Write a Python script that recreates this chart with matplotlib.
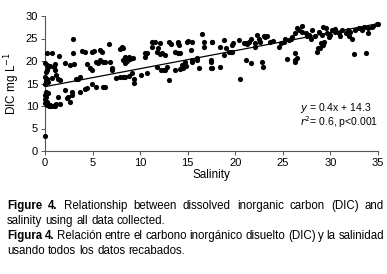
import matplotlib
matplotlib.use('Agg')
import matplotlib.pyplot as plt
import numpy as np

# ── DATA ──────────────────────────────────────────────────────
salinity = [
    0.0, 0.2, 0.7, 1.5,
    0.0, 0.2, 0.3, 0.2, 0.1, 0.5, 0.9, 1.0, 1.2, 1.4, 0.7, 1.1, 1.6,
    0.0, 0.1, 0.2, 0.0, 0.3,
    0.0, 0.1, 0.0, 0.2, 0.0, 0.2, 0.4, 0.6, 0.9, 1.1, 1.2, 1.6, 1.4, 0.3, 0.1, 0.5, 1.0,
    2.1, 2.3, 2.45, 2.6, 2.8, 2.8, 3.7, 4.2, 4.4, 4.9, 5.4,
    2.1, 2.6, 2.9, 2.9, 3.0, 3.3, 3.5, 3.7, 3.9, 4.2, 4.4, 4.7, 4.9, 4.9, 5.1,
    5.4, 5.6, 5.8, 5.8, 6.0, 6.1, 6.3, 6.7, 6.8, 7.0, 7.0, 6.1, 6.3, 7.5, 7.9,
    8.1, 7.9, 8.2, 8.4, 8.8, 8.2, 8.8, 8.2, 8.4,
    9.4, 9.4, 9.1, 10.1, 10.7,
    8.6, 8.8, 8.95, 9.3, 8.4,
    11.8, 12.2, 12.5, 12.6, 12.8,
    13.7, 14.2, 14.8, 15.4, 16.0, 17.4, 17.5, 16.2, 14.4, 14.5, 15.4, 14.7,
    11.2, 11.6, 12.1, 11.2, 11.8, 12.3, 12.6, 10.7, 10.5, 11.9, 10.5, 12.1,
    13.0, 14.0, 14.0, 14.1, 14.9, 15.4, 16.5, 16.7, 16.7, 17.5, 13.7, 14.0,
    15.3, 16.0, 13.0, 13.2, 14.2, 15.0,
    20.5, 21.1, 21.6, 22.8, 22.9, 25.4, 26.3, 26.5, 17.4, 17.4, 18.4, 17.5,
    18.8, 18.4, 19.0, 18.8, 19.3, 19.7, 19.7, 19.8, 20.4, 20.9, 21.1, 21.2,
    21.4, 21.6, 22.1, 22.3, 22.5, 22.6, 23.0, 23.1, 23.3, 23.6, 24.6, 25.1,
    25.2, 25.6, 25.9, 26.3, 26.5, 24.0, 24.8, 22.1, 19.6,
    26.3, 26.3, 28.6, 28.9, 29.0, 29.3, 32.5, 33.7,
    26.7, 27.0, 27.4, 27.7, 28.1, 28.4, 28.8, 29.1, 29.5, 29.6, 29.8, 30.2,
    30.5, 30.9, 31.2, 31.6, 31.8, 32.1, 32.6, 33.0, 33.3, 33.5, 33.9, 34.0,
    34.4, 34.9, 27.5, 28.0, 30.0, 31.0, 32.0, 32.3, 34.5, 35.0, 30.5, 29.2,
    26.0, 27.0, 28.7, 29.2,
]
dic = [
    3.3, 21.7, 21.8, 21.1,
    19.5, 19.1, 18.7, 18.0, 17.6, 19.0, 18.7, 18.0, 16.9, 16.1, 16.3, 19.3, 15.8,
    16.5, 15.5, 16.0, 15.0, 15.3,
    12.4, 12.0, 11.5, 11.0, 10.6, 10.2, 9.9, 10.0, 10.0, 10.2, 10.5, 10.4, 12.0, 12.8, 13.2, 10.3, 9.9,
    13.6, 11.7, 12.1, 11.0, 12.4, 13.2, 13.2, 13.7, 13.9, 14.9, 14.3,
    19.5, 19.2, 24.8, 21.8, 19.3, 16.1, 16.1, 16.5, 22.3, 21.9, 19.3, 18.4, 18.0, 21.9, 22.3,
    19.8, 19.6, 20.2, 22.4, 22.1, 19.8, 19.8, 23.8, 19.8, 18.4, 18.0, 14.3, 14.2, 16.2, 16.5,
    23.2, 22.6, 22.9, 19.5, 20.6, 16.4, 16.7, 20.2, 16.5,
    15.2, 16.1, 17.3, 16.9, 17.4,
    20.1, 20.9, 20.4, 20.6, 20.9,
    18.7, 17.9, 17.9, 18.0, 18.7,
    18.0, 18.2, 18.9, 19.8, 20.2, 20.2, 18.4, 18.4, 19.1, 18.4, 20.2, 19.8,
    24.3, 24.3, 24.1, 23.2, 22.1, 21.7, 21.3, 21.7, 20.9, 22.8, 21.8, 21.5,
    24.3, 24.3, 23.9, 23.6, 24.3, 24.3, 25.9, 24.3, 23.2, 24.3, 22.1, 21.7,
    22.4, 20.6, 15.8, 23.8, 21.8, 24.4,
    16.0, 20.2, 19.6, 19.7, 18.6, 20.4, 19.8, 20.7, 19.8, 18.4, 18.7, 24.3,
    24.7, 23.2, 22.8, 21.3, 22.1, 21.9, 23.6, 23.9, 24.7, 23.9, 24.1, 23.8,
    24.3, 25.0, 23.9, 25.8, 25.0, 24.3, 25.6, 25.4, 25.6, 24.3, 23.2, 24.3,
    25.0, 24.7, 25.0, 26.2, 27.3, 24.4, 24.0, 23.1, 22.0,
    20.2, 21.8, 21.9, 23.0, 23.9, 24.3, 21.5, 21.7,
    26.9, 26.5, 26.2, 25.8, 26.9, 25.6, 26.5, 25.8, 27.3, 26.2, 25.4, 26.9,
    26.5, 26.2, 26.9, 26.2, 26.8, 26.5, 26.9, 27.3, 26.9, 27.6, 27.3, 26.2,
    27.6, 28.2, 25.5, 24.8, 25.8, 25.5, 25.5, 25.0, 27.8, 28.2, 27.2, 27.5,
    25.3, 27.8, 22.9, 23.6,
]

slope, intercept = 0.4, 14.3
x_ticks = [0, 5, 10, 15, 20, 25, 30, 35]
y_ticks = [0, 5, 10, 15, 20, 25, 30]

caption_en = "Relationship between dissolved inorganic carbon (DIC) and"
caption_en2 = "salinity using all data collected."
caption_es = "Relación entre el carbono inorgánico disuelto (DIC) y la salinidad"
caption_es2 = "usando todos los datos recabados."

FONT = ['Liberation Sans Narrow', 'Liberation Sans', 'DejaVu Sans']
plt.rcParams['font.family'] = FONT
plt.rcParams['mathtext.fontset'] = 'custom'
plt.rcParams['mathtext.rm'] = 'Liberation Sans Narrow'
plt.rcParams['mathtext.it'] = 'Liberation Sans Narrow:italic'

# ── PLOT ──────────────────────────────────────────────────────
W, H = 387, 274
fig = plt.figure(figsize=(W / 100, H / 100), dpi=100)
ax = fig.add_axes([45 / W, 1 - 151 / H, 333 / W, 135 / H])

ax.scatter(salinity, dic, s=14, color='black', linewidths=0, zorder=3, clip_on=False)
xl = np.array([0, 35])
ax.plot(xl, slope * xl + intercept, color='black', lw=0.9, zorder=2)

ax.set_xlim(0, 35)
ax.set_ylim(0, 30)
ax.set_xticks(x_ticks)
ax.set_yticks(y_ticks)
for s in ['top', 'right']:
    ax.spines[s].set_visible(False)
for s in ['left', 'bottom']:
    ax.spines[s].set_color('#555555')
    ax.spines[s].set_linewidth(0.8)
ax.tick_params(length=3, width=0.7, color='#555555', labelsize=8, pad=2)
ax.set_xlabel("Salinity", fontsize=8.5, labelpad=1)
ax.set_ylabel("DIC mg L$^{-1}$", fontsize=8.5, labelpad=3)

fig.text(300 / W, 1 - 108 / H, "$y$ = 0.4x + 14.3", fontsize=7.5, va='center')
fig.text(300 / W, 1 - 122 / H, "$r^2$= 0.6, p<0.001", fontsize=7.5, va='center')


# ── CAPTION (justified lines) ─────────────────────────────────
def put_line(words, y_px, x0=7, x1=384, justify=True, size=8.3):
    renderer = fig.canvas.get_renderer()
    objs = []
    for w, bold in words:
        t = fig.text(x0 / W, 1 - y_px / H, w, fontsize=size, va='center',
                     fontweight='bold' if bold else 'normal')
        objs.append(t)
    widths = [t.get_window_extent(renderer).width for t in objs]
    probe1 = fig.text(0, 0, "a a", fontsize=size)
    probe2 = fig.text(0, 0, "aa", fontsize=size)
    space = probe1.get_window_extent(renderer).width - probe2.get_window_extent(renderer).width
    probe1.remove()
    probe2.remove()
    if justify and len(objs) > 1:
        gap = (x1 - x0 - sum(widths)) / (len(objs) - 1)
    else:
        gap = space
    x = x0
    for t, w in zip(objs, widths):
        t.set_x(x / W)
        x += w + gap


def words_of(text, bold_prefix=None):
    out = []
    if bold_prefix:
        out += [(w, True) for w in bold_prefix.split()]
    out += [(w, False) for w in text.split()]
    return out


put_line(words_of(caption_en, "Figure 4."), 206)
put_line(words_of(caption_en2), 221, justify=False)
put_line(words_of(caption_es, "Figura 4."), 236)
put_line(words_of(caption_es2), 251, justify=False)

fig.savefig("out.png", dpi=100)
